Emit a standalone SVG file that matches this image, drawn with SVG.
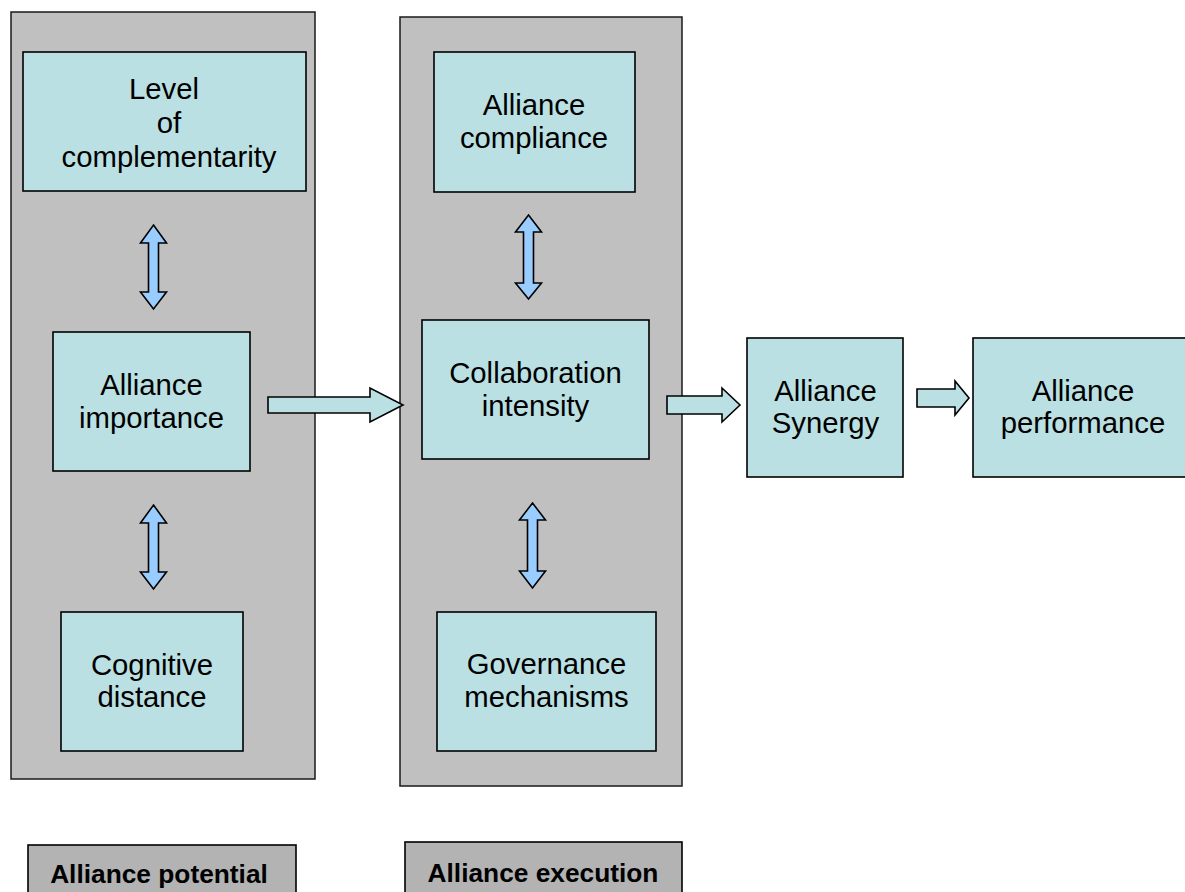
<svg xmlns="http://www.w3.org/2000/svg" width="1185" height="892" viewBox="0 0 1185 892">
<style>
.panel{fill:#C0C0C0;stroke:#1a1a1a;stroke-width:1.5}
.box{fill:#BAE0E3;stroke:#000;stroke-width:1.6}
.lab{fill:#B3B3B3;stroke:#000;stroke-width:1.6}
.dbl{fill:#99CCFF;stroke:#000;stroke-width:1.6;stroke-linejoin:miter}
.harr{fill:#BAE0E3;stroke:#000;stroke-width:1.6;stroke-linejoin:miter}
text{font-family:"Liberation Sans",Arial,sans-serif;font-size:29.3px;fill:#000;text-anchor:middle}
.b{font-weight:bold;font-size:26.3px}
</style>
<rect width="1185" height="892" fill="#fff"/>
<g id="panel-potential"><rect class="panel" x="11" y="12" width="304" height="767"/></g>
<g id="panel-execution"><rect class="panel" x="400" y="17" width="282" height="769"/></g>

<g id="connectors">
  <path class="dbl" d="M153.5,225 L166.5,243 L158.5,243 L158.5,292 L166.5,292 L153.5,309 L140.5,292 L148.5,292 L148.5,243 L140.5,243 Z"/>
  <path class="dbl" d="M153.5,505 L166.5,523 L158.5,523 L158.5,572 L166.5,572 L153.5,589 L140.5,572 L148.5,572 L148.5,523 L140.5,523 Z"/>
  <path class="dbl" d="M528.5,215 L541.5,232 L533.5,232 L533.5,283 L541.5,283 L528.5,299 L515.5,283 L523.5,283 L523.5,232 L515.5,232 Z"/>
  <path class="dbl" d="M532.5,503 L545.5,520 L537.5,520 L537.5,571 L545.5,571 L532.5,588 L519.5,571 L527.5,571 L527.5,520 L519.5,520 Z"/>
  <path class="harr" d="M268,397 L370,397 L370,388 L403,405 L370,422 L370,413 L268,413 Z"/>
  <path class="harr" d="M667,396 L722,396 L722,388 L740,405 L722,422 L722,414 L667,414 Z"/>
  <path class="harr" d="M917,389 L955,389 L955,381 L969,398 L955,415 L955,407 L917,407 Z"/>
</g>

<g id="level-of-complementarity">
  <rect class="box" x="23" y="52" width="283" height="139"/>
  <text x="164" y="99">Level</text>
  <text x="169" y="133">of</text>
  <text x="169" y="167">complementarity</text>
</g>
<g id="alliance-importance">
  <rect class="box" x="53" y="332" width="197" height="139"/>
  <text x="151.5" y="395">Alliance</text>
  <text x="151.5" y="428">importance</text>
</g>
<g id="cognitive-distance">
  <rect class="box" x="61" y="612" width="182" height="139"/>
  <text x="152" y="675">Cognitive</text>
  <text x="152" y="707">distance</text>
</g>
<g id="alliance-compliance">
  <rect class="box" x="434" y="52" width="201" height="140"/>
  <text x="534" y="115">Alliance</text>
  <text x="534" y="148">compliance</text>
</g>
<g id="collaboration-intensity">
  <rect class="box" x="422" y="320" width="227" height="139"/>
  <text x="535.5" y="383">Collaboration</text>
  <text x="535.5" y="416">intensity</text>
</g>
<g id="governance-mechanisms">
  <rect class="box" x="437" y="612" width="219" height="139"/>
  <text x="546.5" y="674">Governance</text>
  <text x="546.5" y="707">mechanisms</text>
</g>
<g id="alliance-synergy">
  <rect class="box" x="747" y="338" width="156" height="139"/>
  <text x="825.5" y="401">Alliance</text>
  <text x="825.5" y="433">Synergy</text>
</g>
<g id="alliance-performance">
  <rect class="box" x="973" y="338" width="220" height="139"/>
  <text x="1083" y="401">Alliance</text>
  <text x="1083" y="433">performance</text>
</g>
<g id="label-potential">
  <rect class="lab" x="28" y="845" width="268" height="60"/>
  <text class="b" x="159" y="883">Alliance potential</text>
</g>
<g id="label-execution">
  <rect class="lab" x="405" y="842" width="277" height="60"/>
  <text class="b" x="543" y="882">Alliance execution</text>
</g>
</svg>
